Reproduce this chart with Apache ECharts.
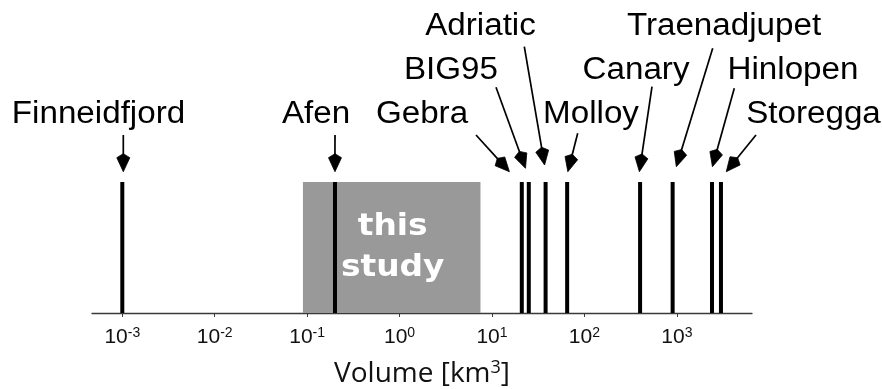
<!DOCTYPE html>
<html><head><meta charset="utf-8">
<script src="https://cdn.jsdelivr.net/npm/echarts@6/dist/echarts.min.js"></script>
<style>html,body{margin:0;padding:0;background:#fff}#c{width:882px;height:389px}</style>
</head><body><div id="c"></div>
<script>
// ---- data ----
const names = ['Finneidfjord','Afen','Gebra','BIG95','Adriatic','Molloy','Canary','Traenadjupet','Hinlopen','Storegga'];
const volumes = [0.001, 0.2, 21, 25, 38, 65, 400, 900, 2400, 3000];
const studyRange = [0.09, 7.5];
const tickValues = [0.001, 0.01, 0.1, 1, 10, 100, 1000];
const tickExponents = ['-3','-2','-1','0','1','2','3'];
const axisExtent = [0.00047, 6500];
const studyText = 'this\nstudy';
const axisTitle = ['Volume [km', '3', ']'];

// ---- annotation layout (pixels) ----
const labelLayout = [
  {tx: 98.5, ty: 114.3, tail: [123.3, 135], tip: [1, 10.3]},
  {tx: 316, ty: 114.3, tail: [335, 135], tip: [0, 10.3]},
  {tx: 422, ty: 114.3, tail: [476, 135], tip: [-12.4, 10.3]},
  {tx: 451, ty: 70.8, tail: [496, 87.3], tip: [-3.3, 13.7]},
  {tx: 480.5, ty: 26.3, tail: [524.3, 46.7], tip: [-1, 17]},
  {tx: 591, ty: 114.3, tail: [577.7, 133.3], tip: [0.7, 10.3]},
  {tx: 636, ty: 70.8, tail: [652, 86.7], tip: [-0.7, 10.3]},
  {tx: 724, ty: 26.3, tail: [712.7, 48.3], tip: [3.7, 15.3]},
  {tx: 793, ty: 70.8, tail: [734.3, 88.3], tip: [0.4, 15.3]},
  {tx: 813.5, ty: 114.3, tail: [756, 135], tip: [5.3, 10.3]}
];

const chart = echarts.init(document.getElementById('c'), null, {renderer: 'canvas'});

function arrowShapes(tail, tip) {
  const dx = tip[0] - tail[0], dy = tip[1] - tail[1];
  const len = Math.sqrt(dx * dx + dy * dy);
  const ux = dx / len, uy = dy / len;
  const nx = -uy, ny = ux;
  const Lb = 14, Lback = 18, W = 6.5;
  const barbL = [tip[0] - ux * Lb + nx * W, tip[1] - uy * Lb + ny * W];
  const barbR = [tip[0] - ux * Lb - nx * W, tip[1] - uy * Lb - ny * W];
  const back = [tip[0] - ux * Lback, tip[1] - uy * Lback];
  return [
    {type: 'line', shape: {x1: tail[0], y1: tail[1], x2: back[0] + ux * 2, y2: back[1] + uy * 2},
     style: {stroke: '#000', lineWidth: 1.7}},
    {type: 'polygon', shape: {points: [tip, barbL, back, barbR]},
     style: {fill: '#000', stroke: '#000', lineWidth: 0.8, lineJoin: 'miter'}}
  ];
}

const option = {
  animation: false,
  backgroundColor: '#fff',
  grid: {left: 92, right: 130, top: 182, bottom: 69, containLabel: false},
  xAxis: {
    type: 'log',
    min: axisExtent[0],
    max: axisExtent[1],
    logBase: 10,
    axisLine: {show: true, lineStyle: {color: '#3a3a3a', width: 1.4}},
    axisTick: {show: true, length: 4, lineStyle: {color: '#3a3a3a', width: 1}, customValues: tickValues},
    minorTick: {show: false},
    splitLine: {show: false},
    axisLabel: {
      customValues: tickValues,
      margin: 13,
      fontSize: 21,
      fontFamily: 'Liberation Sans',
      formatter: function (value) {
        const k = tickValues.findIndex(t => Math.abs(Math.log10(t) - Math.log10(value)) < 1e-6);
        return '{b|10}{s|' + (k >= 0 ? tickExponents[k] : '') + '}';
      },
      rich: {
        b: {fontFamily: 'Liberation Sans', fontSize: 21, color: '#111', lineHeight: 22},
        s: {fontFamily: 'Liberation Sans', fontSize: 14, color: '#111', verticalAlign: 'top', lineHeight: 12}
      }
    },
    name: '{t|' + axisTitle[0] + '}{s|' + axisTitle[1] + '}{t|' + axisTitle[2] + '}',
    nameLocation: 'middle',
    nameGap: 46,
    nameTextStyle: {
      rich: {
        t: {fontFamily: 'Open Sans', fontSize: 28, color: '#111', lineHeight: 30},
        s: {fontFamily: 'Open Sans', fontSize: 18, color: '#111', verticalAlign: 'top', lineHeight: 17}
      }
    }
  },
  yAxis: {type: 'value', min: 0, max: 1, show: false},
  series: [
    {
      name: 'study',
      type: 'custom',
      z: 1,
      data: [[studyRange[0], studyRange[1]]],
      renderItem: function (params, api) {
        const p0 = api.coord([api.value(0), 1]);
        const p1 = api.coord([api.value(1), 0]);
        const cx = (p0[0] + p1[0]) / 2, cy = (p0[1] + p1[1]) / 2;
        return {
          type: 'group',
          children: [
            {type: 'rect', shape: {x: p0[0], y: p0[1], width: p1[0] - p0[0], height: p1[1] - p0[1]},
             style: {fill: '#999999'}},
            {type: 'text', x: cx + 1, y: cy, scaleX: 1.06, z2: 5,
             style: {text: studyText, x: 0, y: 0, align: 'center', verticalAlign: 'middle',
                     font: 'bold 31px "DejaVu Sans"', fill: '#fff', lineHeight: 41}}
          ]
        };
      }
    },
    {
      name: 'events',
      type: 'custom',
      z: 3,
      data: volumes.map(v => [v, 1]),
      renderItem: function (params, api) {
        const b = api.coord([api.value(0), 0]);
        const t = api.coord([api.value(0), api.value(1)]);
        return {type: 'line', shape: {x1: b[0], y1: b[1], x2: t[0], y2: t[1]},
                style: {stroke: '#000', lineWidth: 4}};
      }
    },
    {
      name: 'labels',
      type: 'custom',
      z: 4,
      data: volumes.map(v => [v, 1]),
      renderItem: function (params, api) {
        const i = params.dataIndex;
        const L = labelLayout[i];
        const top = api.coord([api.value(0), api.value(1)]);
        const tip = [top[0] + L.tip[0], top[1] - L.tip[1]];
        const children = arrowShapes(L.tail, tip);
        children.push({type: 'text', x: L.tx, y: L.ty, scaleX: 1.07,
          style: {text: names[i], x: 0, y: 0, align: 'center', verticalAlign: 'middle',
                  font: '31px "Liberation Sans"', fill: '#000'}});
        return {type: 'group', children: children};
      }
    }
  ]
};
chart.setOption(option);
</script>
</body></html>
